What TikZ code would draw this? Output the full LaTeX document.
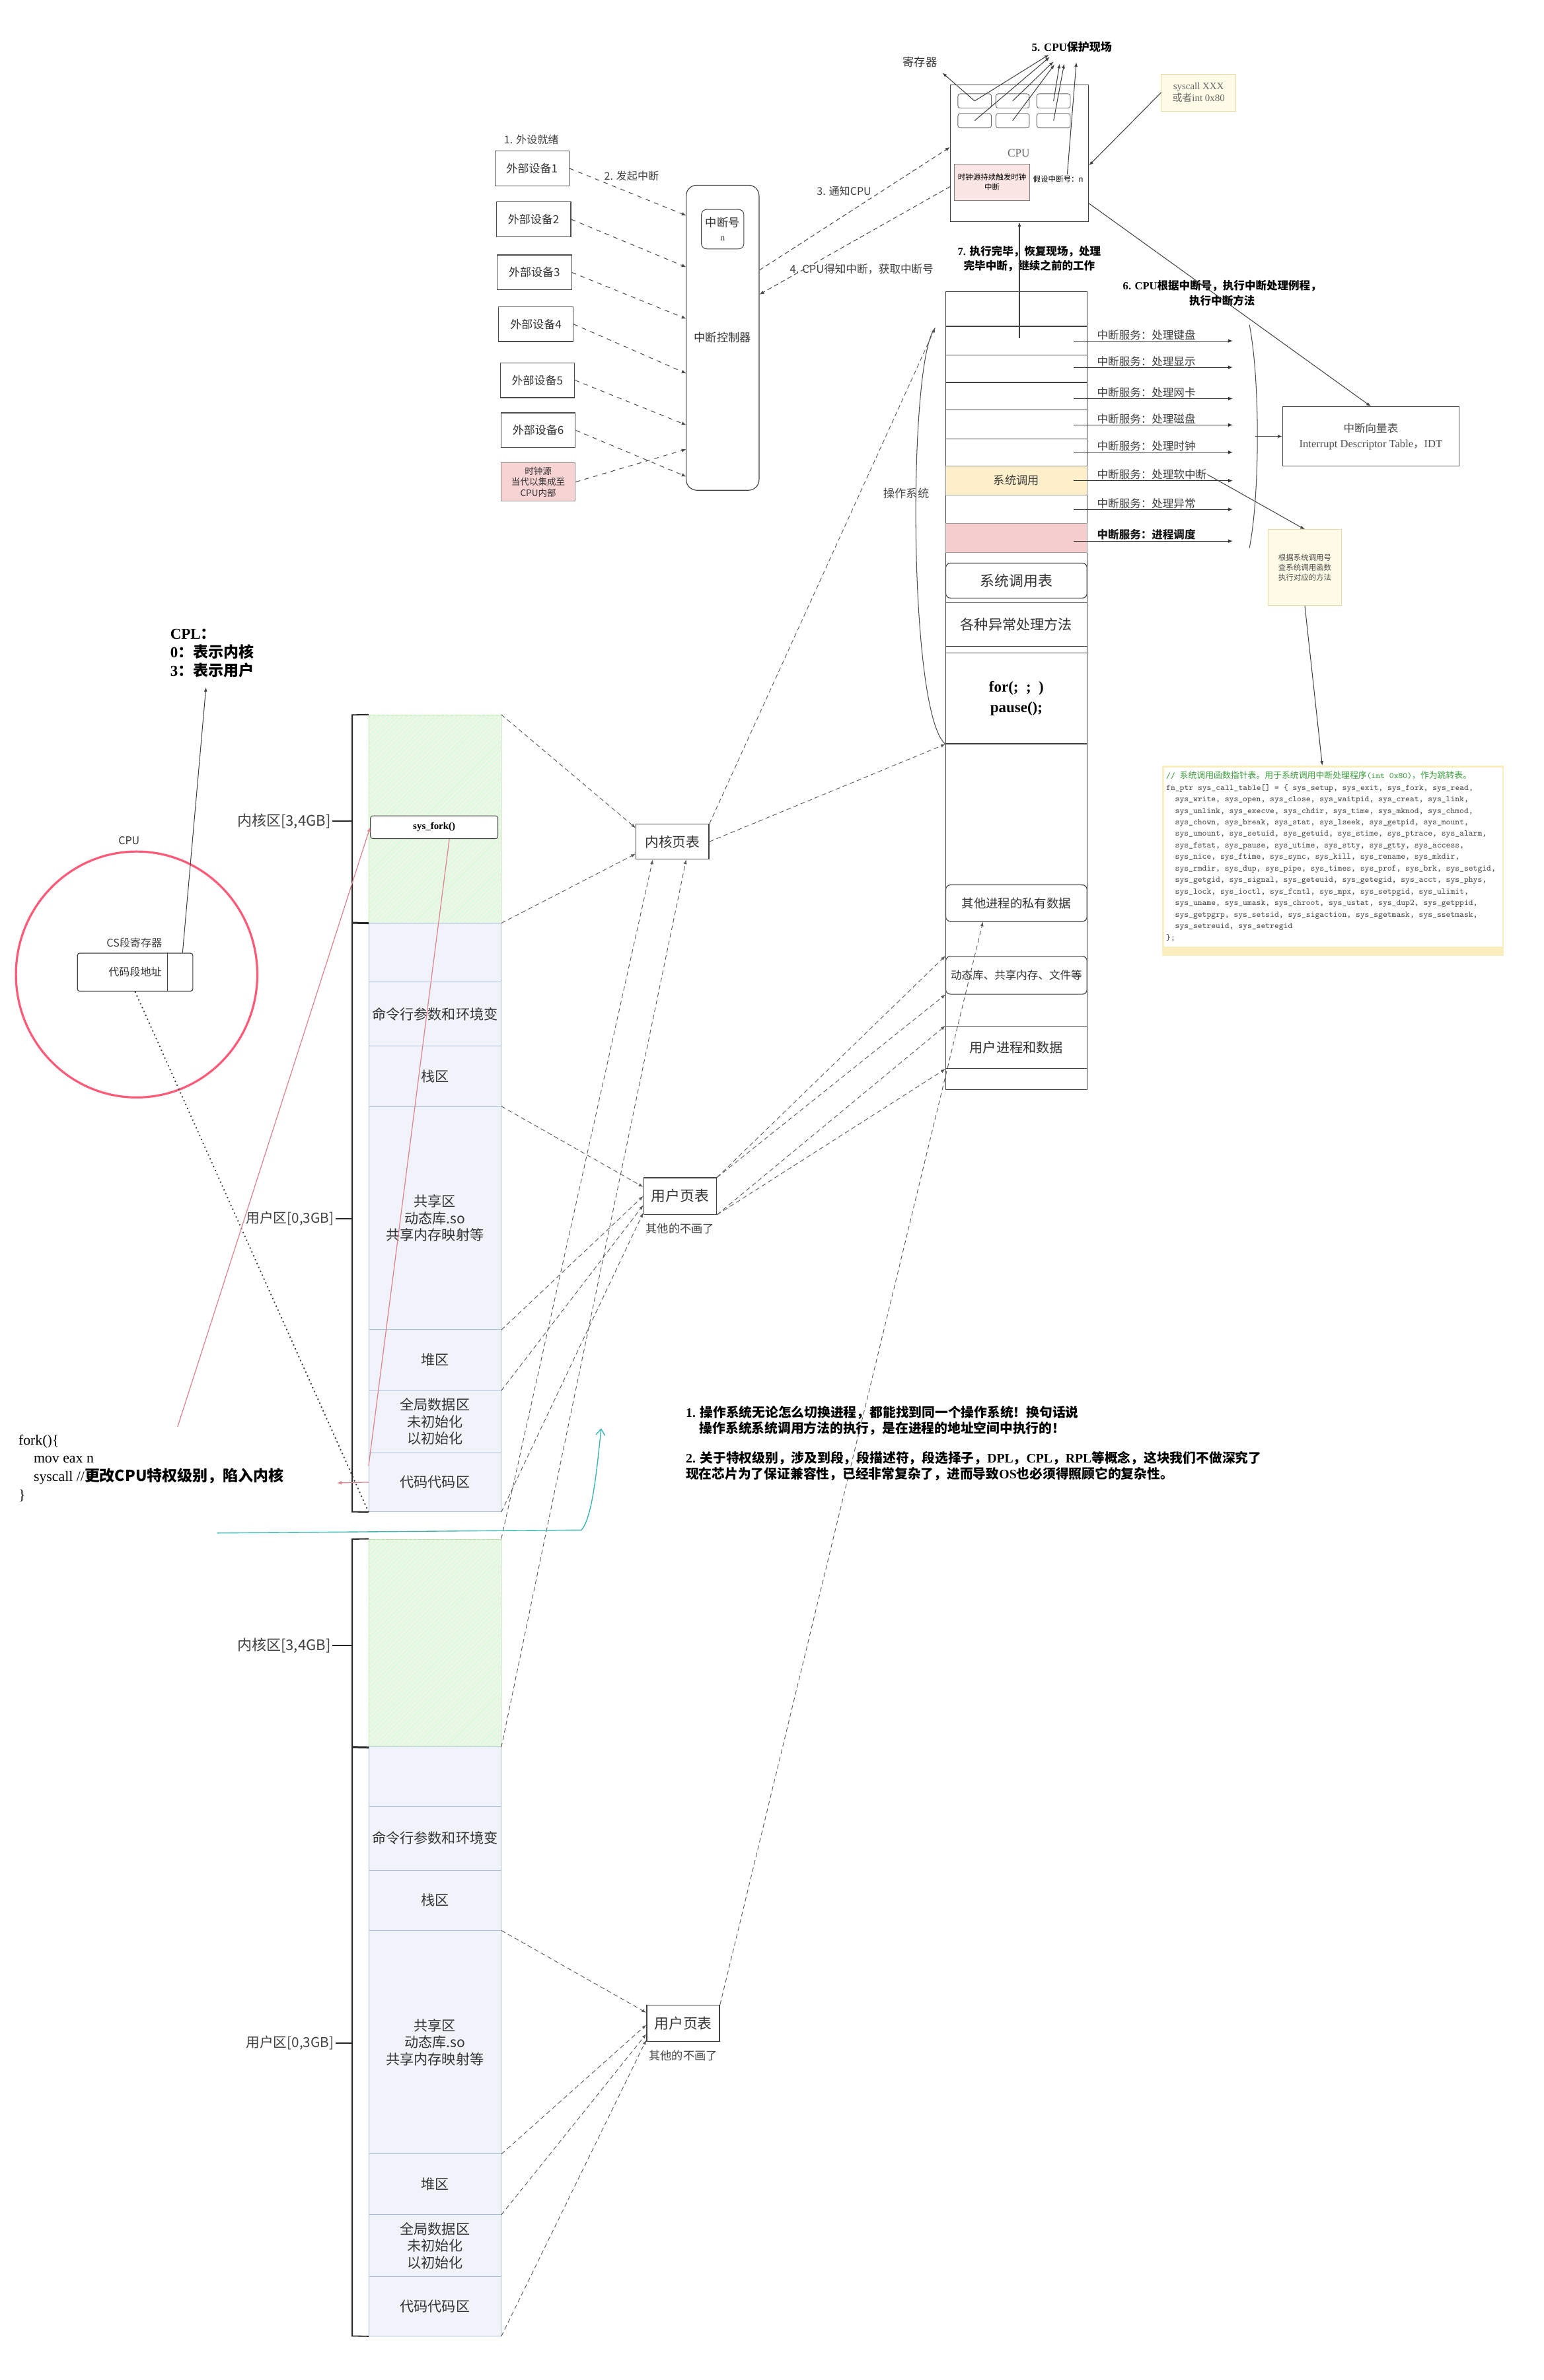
\documentclass[tikz,border=0pt]{standalone}
\usepackage{fontspec}
\setmainfont{Liberation Serif}
\newfontfamily\cjk{Noto Sans CJK SC}
\usetikzlibrary{positioning,arrows.meta,patterns,calc}

\definecolor{kerngreen}{HTML}{EDF6E8}
\definecolor{kernedge}{HTML}{B9DBAA}
\definecolor{userblue}{HTML}{F0F4FA}
\definecolor{useredge}{HTML}{A8BCD8}
\definecolor{rowyellow}{HTML}{FCEFC9}
\definecolor{rowpink}{HTML}{F6CED0}
\definecolor{clkpink}{HTML}{F8D3D3}
\definecolor{ringred}{HTML}{FF5A78}
\definecolor{forkred}{HTML}{DE8590}
\definecolor{codegreen}{HTML}{3A9A3A}
\definecolor{codeband}{HTML}{FAEDBE}
\definecolor{notefill}{HTML}{FFFBE6}
\definecolor{noteedge}{HTML}{E6DDA0}
\definecolor{tealline}{HTML}{3DB6B0}

\newcommand\fsz[2]{\fontsize{#1}{#2}\selectfont}
\newcommand\codeind{\hspace*{1.05em}}

% 系统调用表的代码文本
\begingroup
\catcode`\_=12
\gdef\calltable{%
{\color{codegreen}// {\cjk 系统调用函数指针表。用于系统调用中断处理程序}(int 0x80){\cjk ，作为跳转表。}}\\
fn_ptr sys_call_table[] = \{ sys_setup, sys_exit, sys_fork, sys_read,\\
\codeind sys_write, sys_open, sys_close, sys_waitpid, sys_creat, sys_link,\\
\codeind sys_unlink, sys_execve, sys_chdir, sys_time, sys_mknod, sys_chmod,\\
\codeind sys_chown, sys_break, sys_stat, sys_lseek, sys_getpid, sys_mount,\\
\codeind sys_umount, sys_setuid, sys_getuid, sys_stime, sys_ptrace, sys_alarm,\\
\codeind sys_fstat, sys_pause, sys_utime, sys_stty, sys_gtty, sys_access,\\
\codeind sys_nice, sys_ftime, sys_sync, sys_kill, sys_rename, sys_mkdir,\\
\codeind sys_rmdir, sys_dup, sys_pipe, sys_times, sys_prof, sys_brk, sys_setgid,\\
\codeind sys_getgid, sys_signal, sys_geteuid, sys_getegid, sys_acct, sys_phys,\\
\codeind sys_lock, sys_ioctl, sys_fcntl, sys_mpx, sys_setpgid, sys_ulimit,\\
\codeind sys_uname, sys_umask, sys_chroot, sys_ustat, sys_dup2, sys_getppid,\\
\codeind sys_getpgrp, sys_setsid, sys_sigaction, sys_sgetmask, sys_ssetmask,\\
\codeind sys_setreuid, sys_setregid\\
\};}
\endgroup

\tikzset{
  devbox/.style={draw=black!70, line width=0.5pt, minimum width=49pt, minimum height=23pt, inner sep=0pt, font=\cjk\fsz{7.4}{8}, text=black!80},
  intline/.style={dashed, line width=0.45pt, black!70, -{Latex[length=3pt,width=2.4pt]}},
  thinarrow/.style={line width=0.45pt, black!75, -{Latex[length=3pt,width=2.2pt]}},
  regbox/.style={draw=black!60, rounded corners=1.5pt, minimum width=22pt, minimum height=9.5pt, inner sep=0pt},
  svcarrow/.style={line width=0.5pt, black!80, -{Latex[length=3pt,width=2.4pt]}},
  svclbl/.style={font=\cjk\fsz{7.2}{8}, text=black!75, inner sep=0.5pt},
  osbox/.style={draw=black!75, line width=0.5pt, minimum width=93pt, inner sep=0pt},
  kernzone/.style={draw=kernedge, fill=kerngreen, minimum width=87pt, inner sep=0pt, postaction={pattern=north east lines, pattern color=green!18}},
  userzone/.style={draw=useredge, fill=userblue, minimum width=87pt, inner sep=0pt, align=center, font=\cjk\fsz{9.2}{11}, text=black!80},
  bracket/.style={line width=0.8pt, black!85},
  zonelbl/.style={font=\cjk\fsz{9.6}{10}, text=black!75, inner sep=1pt},
  ptbox/.style={draw=black!75, line width=0.6pt, minimum width=48pt, minimum height=23pt, inner sep=0pt, text=black!80},
  mapline/.style={densely dashed, line width=0.4pt, black!65, -{Latex[length=3pt,width=2.2pt]}},
  forkline/.style={line width=0.55pt, forkred},
}

% 一个进程的虚拟地址空间
\newcommand\addrspace[1]{%
  \node[kernzone, minimum height=137pt] (#1kern) at (286.5,68.5) {};
  \node[userzone, minimum height=39pt] (#1blank) at (286.5,156.5) {};
  \node[userzone, minimum height=42pt] (#1cmd) at (286.5,197) {命令行参数和环境变};
  \node[userzone, minimum height=40pt] (#1stack) at (286.5,238) {栈区};
  \node[userzone, minimum height=147pt] (#1share) at (286.5,331.5) {共享区\\动态库.so\\共享内存映射等};
  \node[userzone, minimum height=40pt] (#1heap) at (286.5,425) {堆区};
  \node[userzone, minimum height=41pt] (#1data) at (286.5,465.5) {全局数据区\\未初始化\\以初始化};
  \node[userzone, minimum height=39pt] (#1code) at (286.5,505.5) {代码代码区};
  % 左侧括线
  \draw[bracket] (#1kern.north west) -- (232,0) -- (232,525) -- (#1code.south west);
  \draw[bracket, line width=1.3pt] (232,137) -- (#1kern.south west);
  \node[zonelbl, anchor=east] (#1klbl) at (219,70) {内核区[3,4GB]};
  \node[zonelbl, anchor=east, font=\cjk\fsz{9}{10}] (#1ulbl) at (221,332) {用户区[0,3GB]};
  \coordinate (#1kmark) at (232,70);
  \coordinate (#1umark) at (232,332);
  \draw[bracket] (#1klbl) -- (#1kmark);
  \draw[bracket] (#1ulbl) -- (#1umark);
}

\begin{document}
\begin{tikzpicture}[x=1pt, y=-1pt]
\useasboundingbox (0,0) rectangle (1017,1568);
\fill[white] (0,0) rectangle (1017,1568);

% ---------- 外部设备 -> 中断控制器 ----------
\node[draw=black!75, line width=0.5pt, rounded corners=7pt, minimum width=48pt, minimum height=201pt, font=\cjk\fsz{7.5}{8}, text=black!80] (intctl) at (476,222.5) {中断控制器};
\node[draw=black!75, rounded corners=3.5pt, minimum width=28pt, minimum height=26pt, align=center, inner sep=0pt, font=\cjk\fsz{7.5}{9}, text=black!80] (intno) at (476,151) {中断号\\{\rmfamily\fsz{6}{6}n}};
\node[font=\cjk\fsz{7}{8}, text=black!75] (ready) at (350,92) {1. 外设就绪};
\node[font=\cjk\fsz{7}{8}, text=black!75] (raise) at (416,116) {2. 发起中断};
\foreach \i/\x/\y/\hy in {1/350.5/111/142, 2/351.5/144.5/176, 3/352/179.5/210, 4/353/213.5/246, 5/354/250.5/280, 6/354.5/283.5/314}{
  \node[devbox] (dev\i) at (\x,\y) {外部设备\i};
  \coordinate (hit\i) at (452,\hy);
  \draw[intline] (dev\i.east) -- (hit\i);
}
\node[devbox, fill=clkpink, draw=black!45, minimum height=25pt, align=center, font=\cjk\fsz{5.9}{7.2}] (clksrc) at (354.5,317.5) {时钟源\\当代以集成至\\CPU内部};
\coordinate (hit7) at (452,296);
\draw[intline] (clksrc.east) -- (hit7);

% ---------- CPU ----------
\node[draw=black!75, line width=0.55pt, minimum width=91pt, minimum height=90pt, inner sep=0pt] (cpu) at (671.5,101) {};
\node[font=\fsz{7.5}{8}, text=black!60] (cputxt) at (671,101) {CPU};
\foreach \cc/\x in {1/642,2/667,3/694}{
  \foreach \rr/\y in {1/66.5,2/79.5}{
    \node[regbox] (reg\cc\rr) at (\x,\y) {};
  }
}
\node[draw=black!50, fill=clkpink!60, minimum width=49.5pt, minimum height=24pt, inner sep=0pt, align=center, font=\cjk\fsz{5}{6.5}] (cpuclk) at (653.5,120) {时钟源持续触发时钟\\中断};
\node[font=\cjk\fsz{5}{6}, inner sep=0.5pt] (assume) at (697,118) {假设中断号：n};
\node[font=\cjk\fsz{7.5}{8}, text=black!80] (reglbl) at (606,41) {寄存器};
\node[font=\bfseries\fsz{7.4}{8}] (savelbl) at (706,31) {5. CPU{\cjk 保护现场}};
\coordinate (sv1) at (691,36);
\coordinate (sv2) at (694,40.5);
\coordinate (sv3) at (691.5,37.5);
\coordinate (sv4) at (694.6,42.5);
\coordinate (sv5) at (698,42);
\coordinate (sv6) at (701,42);
\coordinate (sv7) at (709,41);
\draw[thinarrow] (reg11.center) -- (sv1);
\draw[thinarrow] (reg21.center) -- (sv2);
\draw[thinarrow] (reg12.center) -- (sv3);
\draw[thinarrow] (reg22.center) -- (sv4);
\draw[thinarrow] (reg31.center) -- (sv5);
\draw[thinarrow] (reg32.center) -- (sv6);
\draw[thinarrow] ([xshift=6pt]assume.north) -- (sv7);
\draw[thinarrow] (reg11.center) -- (reglbl.south east);

\node[draw=noteedge, fill=notefill, minimum width=49pt, minimum height=24.5pt, inner sep=0pt, align=center, font=\fsz{6.5}{8}, text=black!60] (sysbox) at (789.5,61) {syscall XXX\\{\cjk 或者}int 0x80};
\draw[thinarrow] (sysbox.west) -- ([yshift=-8pt]cpu.east);

% 3. 通知CPU / 4. 获取中断号
\draw[intline, densely dashed] ([yshift=44.5pt]intctl.east) -- ([yshift=4pt]cpu.west);
\draw[intline, densely dashed] ([yshift=-22pt]cpu.west) -- ([yshift=28.5pt]intctl.east);
\node[font=\cjk\fsz{7}{8}, text=black!75] (notify) at (556,126) {3. 通知CPU};
\node[font=\cjk\fsz{7.2}{8}, text=black!75] (ack) at (567.6,177.5) {4. CPU得知中断，获取中断号};

\node[font=\bfseries\fsz{7.2}{9.5}, align=center] (donelbl) at (678,170.5) {7. {\cjk 执行完毕，恢复现场，处理}\\{\cjk 完毕中断，继续之前的工作}};
\node[font=\bfseries\fsz{7.2}{10}, align=center] (execlbl) at (805,193) {6. CPU{\cjk 根据中断号，执行中断处理例程，}\\{\cjk 执行中断方法}};

% ---------- 物理内存中的操作系统 ----------
\node[osbox, minimum height=526pt] (oscol) at (669.5,455) {};
\foreach \y in {215,234,252,270,289}{
  \draw[black!75, line width=0.5pt] (623,\y) -- (716,\y);
}
\node[osbox, fill=rowyellow, draw=black!45, minimum height=19pt, font=\cjk\fsz{7.5}{8}, text=black!75] (ossys) at (669.5,316.5) {系统调用};
\node[osbox, fill=rowpink, draw=black!40, minimum height=19pt] (ossched) at (669.5,354.5) {};
\node[osbox, rounded corners=3pt, minimum height=23pt, font=\cjk\fsz{9.5}{10}, text=black!80] (ossct) at (669.5,382.5) {系统调用表};
\node[osbox, minimum height=29pt, font=\cjk\fsz{9.2}{10}, text=black!80] (osexc) at (669.5,411.5) {各种异常处理方法};
\node[osbox, minimum height=60pt, align=center, font=\bfseries\fsz{10}{13.5}] (osfor) at (669.5,460) {for(;\ \ ;\ \ )\\pause();};
\node[osbox, rounded corners=3pt, minimum height=24pt, font=\cjk\fsz{8}{9}, text=black!80] (ospriv) at (669.5,595) {其他进程的私有数据};
\node[osbox, rounded corners=3pt, minimum height=25pt, font=\cjk\fsz{7.2}{8}, text=black!80] (osdyn) at (669.5,642.5) {动态库、共享内存、文件等};
\node[osbox, minimum height=28pt, font=\cjk\fsz{8.8}{9}, text=black!80] (osusr) at (669.5,690) {用户进程和数据};

\coordinate (ostop) at (616,216);
\draw[black!70, line width=0.45pt] (osfor.south west) .. controls (598,470) and (598,236) .. (ostop);
\node[font=\cjk\fsz{7.5}{8}, text=black!70] (oslbl) at (597,325) {操作系统};

\coordinate (retfrom) at (671.5,223);
\draw[thinarrow] (retfrom) -- (cpu.south);

% 中断服务
\foreach \i/\y/\lbl in {1/224.6/处理键盘, 2/242/处理显示, 3/262.6/处理网卡, 4/280/处理磁盘, 5/298/处理时钟, 6/316.7/处理软中断, 7/335.6/处理异常}{
  \coordinate (svcs\i) at (707,\y);
  \coordinate (svce\i) at (812,\y);
  \draw[svcarrow] (svcs\i) -- (svce\i);
  \node[svclbl, anchor=south west] (svc\i) at (722,\y) {中断服务：\lbl};
}
\coordinate (svcs8) at (707,356.5);
\coordinate (svce8) at (812,356.5);
\draw[svcarrow] (svcs8) -- (svce8);
\node[svclbl, anchor=south west, font=\cjk\bfseries\fsz{7.2}{8}, text=black!90] (svc8) at (722,356.5) {中断服务：进程调度};

\coordinate (brtop) at (823,214);
\coordinate (brbot) at (823,361);
\coordinate (bracetip) at (827,287.5);
\draw[black!70, line width=0.45pt] (brtop) .. controls (830,250) and (830,325) .. (brbot);

\node[draw=black!70, line width=0.55pt, minimum width=116pt, minimum height=39pt, inner sep=0pt, align=center, font=\fsz{7.2}{10}, text=black!70] (idt) at (903,287.5) {{\cjk 中断向量表}\\Interrupt Descriptor Table{\cjk ，}IDT};
\draw[thinarrow] (bracetip) -- (idt.west);
\draw[thinarrow] ([yshift=-33pt]cpu.east) -- (idt.north);

\node[draw=noteedge, fill=notefill, minimum width=48.5pt, minimum height=50pt, inner sep=0pt, align=center, font=\cjk\fsz{5}{6.5}, text=black!70] (scnote) at (859.5,374) {根据系统调用号\\查系统调用函数\\执行对应的方法};
\draw[thinarrow] (svc6.east) -- (scnote.north);

\node[draw=codeband, line width=1.2pt, fill=white, minimum width=224pt, minimum height=124pt, inner sep=0pt] (codebox) at (878,567) {};
\fill[codeband] (codebox.south west) rectangle ([yshift=6pt]codebox.south east);
\node[anchor=north west, align=left, inner sep=0pt, font=\ttfamily\fsz{5.6}{7.6}, text=black!70] (codetext) at (768,508) {\calltable};
\draw[thinarrow] (scnote.south) -- ([xshift=-7pt]codebox.north);

% ---------- CPU 的 CS 段寄存器 ----------
\draw[ringred, line width=1.4pt] (90,642) ellipse [x radius=79.5pt, y radius=81pt];
\node[font=\cjk\fsz{7}{8}, text=black!80] (ringlbl) at (85,554) {CPU};
\node[font=\cjk\fsz{7}{8}, text=black!75] (cslbl) at (88.5,621) {CS段寄存器};
\node[draw=black!75, line width=0.5pt, rounded corners=1.5pt, minimum width=76pt, minimum height=25pt, inner sep=0pt, font=\cjk\fsz{7}{8}, text=black!80] (csbox) at (89,640.5) {代码段地址};
\draw[black!75, line width=0.5pt] ([xshift=-17pt]csbox.north east) -- ([xshift=-17pt]csbox.south east);
\node[anchor=north west, align=left, inner sep=0pt, font=\bfseries\fsz{10}{12.3}] (cpl) at (112,414) {CPL{\cjk ：}\\0{\cjk ：表示内核}\\3{\cjk ：表示用户}};
\draw[thinarrow] ([xshift=-7pt]csbox.north east) -- ([xshift=-4pt,yshift=-6pt]cpl.south);

% ---------- 两个进程的地址空间 ----------
\begin{scope}[shift={(0,471)}]
  \addrspace{a}
\end{scope}
\begin{scope}[shift={(0,1014)}]
  \addrspace{b}
\end{scope}
\node[draw=black!75, fill=white, rounded corners=1.5pt, minimum width=84pt, minimum height=15pt, inner sep=0pt, font=\bfseries\fsz{6.5}{7}] (afork) at (286,545) {sys\_fork()};

\node[ptbox, font=\cjk\fsz{9}{10}] (kpt) at (443,554.5) {内核页表};
\node[ptbox, minimum height=24pt, font=\cjk\fsz{9.5}{10}] (upt) at (448,788) {用户页表};
\node[font=\cjk\fsz{7.5}{8}, text=black!75, below=2pt of upt] (uptnote) {其他的不画了};
\node[ptbox, minimum height=24pt, font=\cjk\fsz{9.5}{10}] (upt2) at (450,1333) {用户页表};
\node[font=\cjk\fsz{7.5}{8}, text=black!75, below=2pt of upt2] (upt2note) {其他的不画了};

% 页表映射
\draw[mapline] (akern.north east) -- ([yshift=9pt]kpt.west);
\draw[mapline] (akern.south east) -- ([yshift=-8pt]kpt.west);
\draw[mapline] (ashare.north east) -- ([yshift=6pt]upt.west);
\draw[mapline] (ashare.south east) -- (upt.west);
\draw[mapline] (aheap.south east) -- ([yshift=-6pt]upt.west);
\draw[mapline] (acode.south east) -- ([yshift=-11pt]upt.west);
\draw[mapline] (bshare.north east) -- ([yshift=7pt]upt2.west);
\draw[mapline] (bshare.south east) -- ([yshift=-1pt]upt2.west);
\draw[mapline] (bheap.south east) -- ([yshift=-7pt]upt2.west);
\draw[mapline] (bcode.south east) -- ([yshift=-11pt]upt2.west);
\draw[mapline] (bkern.north east) -- ([xshift=-13pt]kpt.south);
\draw[mapline] (bkern.south east) -- ([xshift=9pt]kpt.south);
\draw[mapline] (kpt.north east) -- (ostop);
\draw[mapline] (kpt.east) -- (osfor.south west);
\draw[mapline] (upt.north east) -- (osdyn.north west);
\draw[mapline] (upt.north east) -- (osdyn.south west);
\draw[mapline] (upt.south east) -- (osusr.north west);
\draw[mapline] (upt.south east) -- (osusr.south west);
\draw[mapline] (upt2.north east) -- ([xshift=-22pt]ospriv.south);

% CS 指向代码区, fork 陷入内核
\draw[dotted, line width=0.8pt, black!80] (csbox.south) -- (acode.south west);
\coordinate (fkfoot) at (117,940);
\draw[forkline, -{Latex[length=3pt,width=2.4pt]}] (fkfoot) -- (afork.west);
\draw[forkline] ([yshift=-9pt]acode.north west) -- ([xshift=10pt]afork.south);
\coordinate (forkhit) at (222,977);
\draw[forkline, -{Latex[length=3pt,width=2.4pt]}] (acode.west) -- (forkhit);

\node[anchor=north west, align=left, inner sep=0pt, font=\fsz{9.5}{12}] (forkcode) at (12,945) {fork()\{\\\hspace*{10pt}mov eax n\\\hspace*{10pt}syscall //{\cjk\bfseries\fsz{10}{12}更改CPU特权级别，陷入内核}\\\}};

\coordinate (tealfrom) at (143,1010);
\coordinate (tealturn) at (383,1008);
\coordinate (tealtip) at (396,941);
\draw[tealline, line width=0.6pt, -{Straight Barb[length=4pt,width=6pt]}] (tealfrom) -- (tealturn) .. controls (390,1000) and (393,970) .. (tealtip);

% 说明文字
\node[anchor=north west, align=left, inner sep=0pt, font=\bfseries\fsz{8.6}{10.3}] (notes) at (451.6,926) {1. {\cjk 操作系统无论怎么切换进程，都能找到同一个操作系统！换句话说}\\\hspace*{9pt}{\cjk 操作系统系统调用方法的执行，是在进程的地址空间中执行的！}\\[9.5pt]2. {\cjk 关于特权级别，涉及到段，段描述符，段选择子，}DPL{\cjk ，}CPL{\cjk ，}RPL{\cjk 等概念，这块我们不做深究了}\\{\cjk 现在芯片为了保证兼容性，已经非常复杂了，进而导致}OS{\cjk 也必须得照顾它的复杂性。}};

\end{tikzpicture}
\end{document}
